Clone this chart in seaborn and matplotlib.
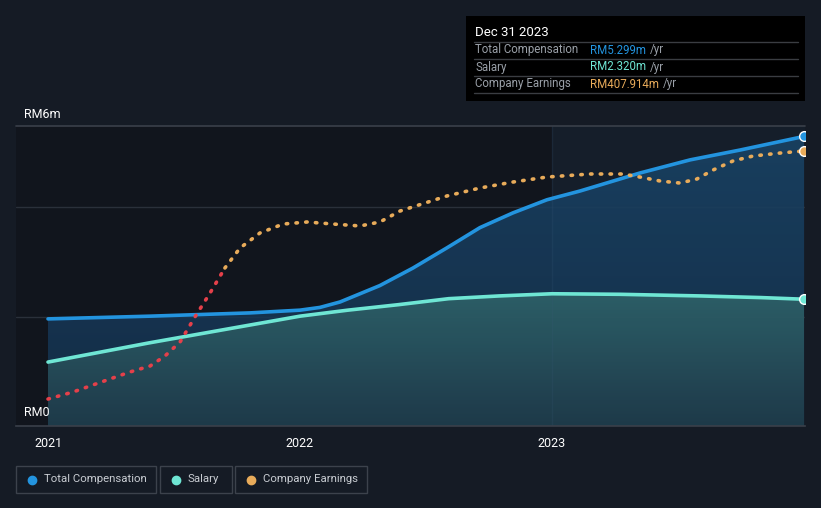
import numpy as np
import pandas as pd
import matplotlib.pyplot as plt
from matplotlib.colors import LinearSegmentedColormap
import seaborn as sns

# values (years as decimals, RM millions)
comp_year = [2021.0, 2021.405, 2021.802, 2022.0, 2022.079, 2022.159, 2022.238, 2022.317,
             2022.448, 2022.583, 2022.714, 2022.845, 2022.980, 2023.111, 2023.349,
             2023.548, 2023.746, 2024.0]
comp_val = [1.96, 2.01, 2.07, 2.12, 2.17, 2.27, 2.42, 2.57, 2.89, 3.26, 3.63, 3.90, 4.14,
            4.30, 4.63, 4.87, 5.05, 5.299]

salary_year = [2021.0, 2021.40, 2022.0, 2022.19, 2022.39, 2022.59, 2022.79, 2023.0,
               2023.27, 2023.59, 2023.83, 2024.0]
salary_val = [1.17, 1.52, 2.01, 2.12, 2.22, 2.33, 2.38, 2.42, 2.41, 2.38, 2.35, 2.320]

earn_year = [2021.0, 2021.099, 2021.234, 2021.325, 2021.405, 2021.464, 2021.524, 2021.583,
             2021.643, 2021.702, 2021.762, 2021.841, 2021.933, 2022.028, 2022.131, 2022.238,
             2022.317, 2022.397, 2022.583, 2022.714, 2022.845, 2022.980, 2023.151, 2023.282,
             2023.349, 2023.429, 2023.508, 2023.575, 2023.639, 2023.718, 2023.798, 2023.905,
             2024.0]
earn_val = [40.0, 50.4, 68.2, 80.1, 89.0, 103.8, 124.6, 161.7, 197.3, 234.4, 264.0, 286.3,
            299.6, 302.6, 299.6, 296.7, 302.6, 318.9, 341.2, 353.0, 361.9, 369.3, 373.8,
            373.8, 369.3, 363.4, 360.4, 366.4, 379.7, 393.1, 400.5, 404.9, 407.914]
red_until = 9  # earnings drawn red up to this point

BG = '#151b25'
BLUE = '#2394df'
TEAL = '#6fe6d4'
ORANGE = '#e8ab5a'
RED = '#e5404a'
GREY = '#9aa0a8'

sns.set_style('dark', {'axes.facecolor': '#11151d', 'figure.facecolor': BG})
plt.rcParams['font.family'] = ['Roboto', 'DejaVu Sans']

comp = pd.DataFrame({'year': comp_year, 'value': comp_val})
salary = pd.DataFrame({'year': salary_year, 'value': salary_val})
earn = pd.DataFrame({'year': earn_year, 'value': earn_val})

fig = plt.figure(figsize=(8.21, 5.08), dpi=100)
ax = fig.add_axes([16 / 821, 1 - 426 / 508, 789 / 821, 300 / 508])
x0, x1, ytop = 2020.873, 2024.004, 5.49
ax.set_xlim(x0, x1)
ax.set_ylim(0, ytop)


def gradient_fill(ax, x, y, top_col, bot_col, z):
    poly = ax.fill_between(x, y, color='none', lw=0)
    cmap = LinearSegmentedColormap.from_list('g', [bot_col, top_col])
    grad = np.linspace(0, 1, 256).reshape(-1, 1)
    im = ax.imshow(grad, cmap=cmap, aspect='auto', origin='lower',
                   extent=[x0, x1, 0, max(y)], zorder=z)
    im.set_clip_path(poly.get_paths()[0], transform=ax.transData)


# highlighted last year
ax.axvspan(2023.0, x1, color='#172230', alpha=0.7, zorder=0, lw=0)
for y in [2, 4]:
    ax.axhline(y, color='#2a303a', lw=1, zorder=0.5)

gradient_fill(ax, comp['year'], comp['value'], (0.10, 0.27, 0.41, 0.85), (0.08, 0.19, 0.30, 0.85), 1)
gradient_fill(ax, salary['year'], salary['value'], (0.18, 0.38, 0.41, 0.95), (0.12, 0.23, 0.29, 0.95), 2)
ax.axvline(2023.0, color='#3a5a78', lw=1, alpha=0.18, zorder=2.5)
ax.set_xlim(x0, x1)
ax.set_ylim(0, ytop)

sns.lineplot(data=comp, x='year', y='value', color=BLUE, lw=2.6, ax=ax, zorder=4)
sns.lineplot(data=salary, x='year', y='value', color=TEAL, lw=2.6, ax=ax, zorder=4)
ax.plot(comp['year'].iloc[-1], comp['value'].iloc[-1], 'o', ms=7, color=BLUE, mec='white', mew=1, zorder=6)
ax.plot(salary['year'].iloc[-1], salary['value'].iloc[-1], 'o', ms=7, color=TEAL, mec='white', mew=1, zorder=6)
ax.axhline(ytop, color='#3a404a', lw=1.2, zorder=3, clip_on=False)

ax2 = ax.twinx()
ax2.set_ylim(0, 445)
ax2.set_position(ax.get_position())
dots = (0, (0.4, 2.3))
sns.lineplot(data=earn.iloc[:red_until + 1], x='year', y='value', color=RED, lw=2.6,
             ax=ax2, linestyle=dots, dash_capstyle='round', zorder=5)
sns.lineplot(data=earn.iloc[red_until:], x='year', y='value', color=ORANGE, lw=2.6,
             ax=ax2, linestyle=dots, dash_capstyle='round', zorder=5)
ax2.plot(earn['year'].iloc[-1], earn['value'].iloc[-1], 'o', ms=7, color=ORANGE, mec='white', mew=1, zorder=6)
ax2.set_yticks([])
ax2.set_ylabel('')
for a in (ax, ax2):
    for s in a.spines.values():
        s.set_visible(False)
ax.spines['bottom'].set_visible(True)
ax.spines['bottom'].set_color('#3a404a')
ax.spines['bottom'].set_linewidth(1.2)

ax.set_xticks([2021, 2022, 2023])
ax.set_xticklabels(['2021', '2022', '2023'], color='white', fontsize=9)
ax.tick_params(axis='x', length=4, color='#3a404a', pad=4)
ax.set_yticks([])
ax.set_xlabel('')
ax.set_ylabel('')

fig.text(24 / 821, 1 - 114 / 508, 'RM6m', color='white', fontsize=9, va='center')
fig.text(24 / 821, 1 - 413 / 508, 'RM0', color='white', fontsize=9, va='center')

# tooltip box
tip = fig.add_axes([466 / 821, 1 - 101 / 508, 339 / 821, 85 / 508])
tip.set_xlim(0, 339)
tip.set_ylim(85, 0)
tip.set_facecolor('#000000')
tip.set_xticks([])
tip.set_yticks([])
for s in tip.spines.values():
    s.set_visible(False)
tip.text(9, 16, 'Dec 31 2023', color='white', fontsize=9.5, va='center')
for y in [26, 43, 60, 77]:
    tip.plot([8, 332], [y, y], color='#3a3d42', lw=1)
rows = [('Total Compensation', 'RM5.299m', BLUE, 34),
        ('Salary', 'RM2.320m', TEAL, 51),
        ('Company Earnings', 'RM407.914m', ORANGE, 68)]
for label, val, col, y in rows:
    tip.text(9, y, label, color=GREY, fontsize=8.3, va='center')
    t = tip.text(124, y, val, color=col, fontsize=8.3, va='center')
    fig.canvas.draw()
    bb = t.get_window_extent().transformed(tip.transData.inverted())
    tip.text(bb.x1 + 4, y, '/yr', color=GREY, fontsize=8.3, va='center')

# legend boxes
legend = [('Total Compensation', BLUE, 16, 156), ('Salary', TEAL, 160, 232),
          ('Company Earnings', ORANGE, 235, 367)]
leg = fig.add_axes([0, 0, 1, 1], facecolor='none')
leg.set_xlim(0, 821)
leg.set_ylim(508, 0)
leg.axis('off')
for name, col, xa, xb in legend:
    leg.add_patch(plt.Rectangle((xa, 466), xb - xa, 27, fill=False, ec='#3c424c', lw=1))
    leg.plot(xa + 16, 479.5, 'o', ms=6, color=col)
    leg.text(xa + 28, 479.5, name, color='#c8ccd2', fontsize=8.2, va='center')

fig.savefig('out.png', dpi=100, facecolor=BG)
